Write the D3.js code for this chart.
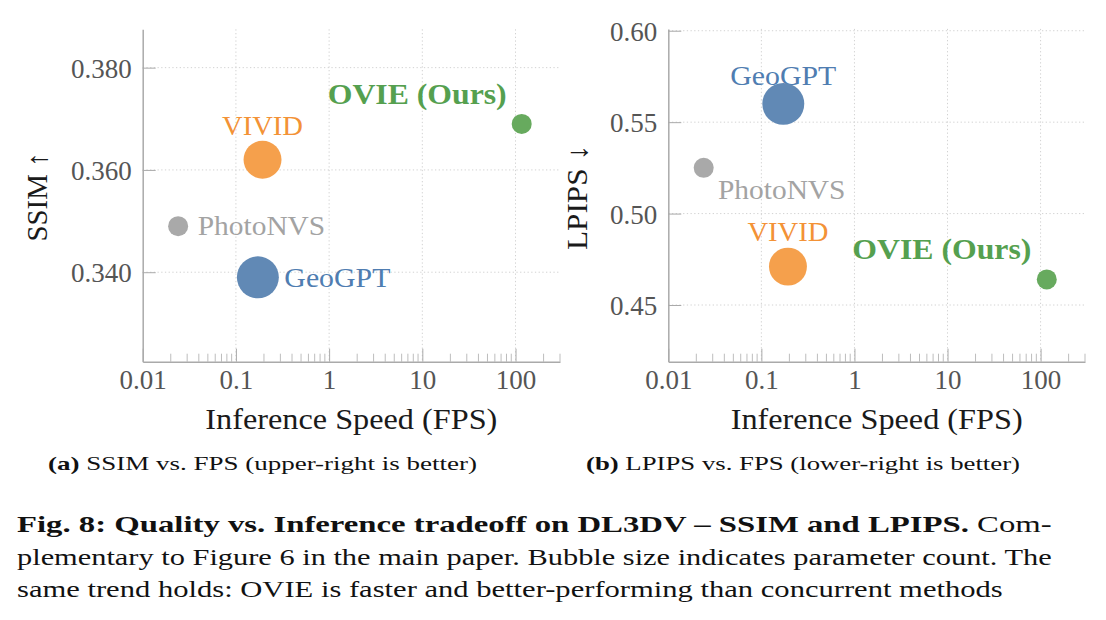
<!DOCTYPE html>
<html>
<head>
<meta charset="utf-8">
<script src="https://cdn.jsdelivr.net/npm/d3@7"></script>
<style>
  body { margin: 0; background: #fff; }
  svg { display: block; }
  text { font-family: "Liberation Serif", "Times New Roman", serif; }
</style>
</head>
<body>
<svg id="fig" width="1106" height="620"></svg>
<script>
// ---------------- data ----------------
const methods   = ["GeoGPT", "VIVID", "PhotoNVS", "OVIE (Ours)"];
const fps       = [0.172, 0.193, 0.024, 116.5];        // inference speed (FPS)
const ssim      = [0.339, 0.362, 0.349, 0.369];         // SSIM (higher better)
const lpips     = [0.560, 0.471, 0.525, 0.464];         // LPIPS (lower better)
const paramRel  = [4.4, 3.6, 1.0, 1.0];                 // relative parameter count (bubble area)
const xTicks    = [0.01, 0.1, 1, 10, 100];
const xTickLabels = ["0.01", "0.1", "1", "10", "100"];
const ssimTicks = [0.340, 0.360, 0.380];
const lpipsTicks = [0.45, 0.50, 0.55, 0.60];

// ---------------- styles ----------------
const fillColor = { "GeoGPT": "#6189b5", "VIVID": "#f5a04c", "PhotoNVS": "#a9a9a9", "OVIE (Ours)": "#67aa5e" };
const textColor = { "GeoGPT": "#4f7db1", "VIVID": "#f39236", "PhotoNVS": "#a3a3a3", "OVIE (Ours)": "#55a04f" };
const labelWidth = { "GeoGPT": 106, "VIVID": 81, "PhotoNVS": 127.5, "OVIE (Ours)": 179 };

const svg = d3.select("#fig");
svg.append("rect").attr("width", 1106).attr("height", 620).attr("fill", "#fff");

const rows = methods.map((m, i) => ({ m, fps: fps[i], ssim: ssim[i], lpips: lpips[i], p: paramRel[i] }));

function panel(o) {
  const x = d3.scaleLog().domain([0.01, 300]).range([o.x0, o.x1]);
  const y = d3.scaleLinear().domain(o.yDomain).range([o.y1, o.y0]);
  const r = d3.scaleSqrt().domain([0, 1]).range([0, 10]);
  const g = svg.append("g");

  // grid
  g.append("g").selectAll("line").data(o.yTicks).join("line")
    .attr("x1", o.x0).attr("x2", o.x1)
    .attr("y1", d => y(d)).attr("y2", d => y(d))
    .attr("stroke", "#d2d2d2").attr("stroke-width", 1).attr("stroke-dasharray", "1.3,2.4");
  g.append("g").selectAll("line").data(xTicks.slice(1)).join("line")
    .attr("x1", d => x(d)).attr("x2", d => x(d))
    .attr("y1", o.y0).attr("y2", o.y1)
    .attr("stroke", "#d2d2d2").attr("stroke-width", 1).attr("stroke-dasharray", "1.3,2.4");

  // minor x ticks
  const minors = [];
  xTicks.forEach(t => { for (let k = 2; k <= 9; k++) { const v = t * k; if (v <= 300) minors.push(v); } });
  g.append("g").selectAll("line").data(minors).join("line")
    .attr("x1", d => x(d)).attr("x2", d => x(d))
    .attr("y1", o.y1).attr("y2", o.y1 - 8)
    .attr("stroke", "#bdbdbd").attr("stroke-width", 1);

  // axes
  const ax = g.append("g").attr("transform", `translate(0,${o.y1})`)
    .call(d3.axisBottom(x).tickValues(xTicks).tickFormat((d, i) => xTickLabels[i])
      .tickSizeInner(-13).tickSizeOuter(0).tickPadding(8));
  const ay = g.append("g").attr("transform", `translate(${o.x0},0)`)
    .call(d3.axisLeft(y).tickValues(o.yTicks).tickFormat(d3.format(o.yFmt))
      .tickSizeInner(-13).tickSizeOuter(0).tickPadding(11));
  [ax, ay].forEach(a => {
    a.select(".domain").attr("stroke", "#aaaaaa").attr("stroke-width", 1.5);
    a.selectAll(".tick line").attr("stroke", "#aaaaaa").attr("stroke-width", 1);
    a.selectAll(".tick text").attr("fill", "#555").attr("font-size", 27)
      .attr("font-family", "Liberation Serif");
  });
  ay.selectAll(".tick text").attr("dy", "0.35em");

  // axis titles
  g.append("text").attr("x", (o.x0 + o.x1) / 2).attr("y", 429)
    .attr("text-anchor", "middle").attr("font-size", 29).attr("fill", "#1a1a1a")
    .attr("textLength", 292).attr("lengthAdjust", "spacingAndGlyphs")
    .text("Inference Speed (FPS)");
  g.append("text").attr("transform", `translate(${o.titleX},${o.titleY}) rotate(-90)`)
    .attr("text-anchor", "middle").attr("dominant-baseline", "central")
    .attr("font-size", 29).attr("fill", "#1a1a1a")
    .attr("textLength", o.titleLen).attr("lengthAdjust", "spacingAndGlyphs")
    .text(o.yTitle);

  // labels (drawn under bubbles)
  g.append("g").selectAll("text").data(rows).join("text")
    .attr("x", d => x(d.fps) + o.lab[d.m][0])
    .attr("y", d => y(d[o.key]) + o.lab[d.m][1])
    .attr("text-anchor", d => o.lab[d.m][2])
    .attr("font-size", d => d.m === "OVIE (Ours)" ? 29 : 28)
    .attr("font-weight", d => d.m === "OVIE (Ours)" ? "bold" : "normal")
    .attr("fill", d => textColor[d.m])
    .attr("textLength", d => labelWidth[d.m]).attr("lengthAdjust", "spacingAndGlyphs")
    .text(d => d.m);

  // bubbles
  g.append("g").selectAll("circle").data(rows).join("circle")
    .attr("cx", d => x(d.fps)).attr("cy", d => y(d[o.key]))
    .attr("r", d => r(d.p))
    .attr("fill", d => fillColor[d.m]);
}

panel({
  x0: 142.7, x1: 560, y0: 29.3, y1: 361.7,
  yDomain: [0.3225, 0.3875], yTicks: ssimTicks, yFmt: ".3f", key: "ssim",
  yTitle: "SSIM ↑", titleX: 36.5, titleY: 197, titleLen: 89,
  lab: {
    "GeoGPT": [26.5, 9.4, "start"],
    "VIVID": [0, -25, "middle"],
    "PhotoNVS": [19.6, 8.6, "start"],
    "OVIE (Ours)": [-15, -20, "end"]
  }
});

panel({
  x0: 668.3, x1: 1085, y0: 28.9, y1: 361.7,
  yDomain: [0.419, 0.601], yTicks: lpipsTicks, yFmt: ".2f", key: "lpips",
  yTitle: "LPIPS ↓", titleX: 577, titleY: 197.5, titleLen: 105,
  lab: {
    "GeoGPT": [0, -18.7, "middle"],
    "VIVID": [0, -26, "middle"],
    "PhotoNVS": [14.3, 31.3, "start"],
    "OVIE (Ours)": [-15.4, -20, "end"]
  }
});

// sub-captions
function subcap(x, len, tag, rest) {
  const t = svg.append("text").attr("x", x).attr("y", 470).attr("font-size", 19).attr("fill", "#111")
    .attr("textLength", len).attr("lengthAdjust", "spacingAndGlyphs");
  t.append("tspan").attr("font-weight", "bold").text(tag);
  t.append("tspan").text(" " + rest);
}
subcap(48, 429, "(a)", "SSIM vs. FPS (upper-right is better)");
subcap(586, 434, "(b)", "LPIPS vs. FPS (lower-right is better)");

// figure caption
const cap1 = svg.append("text").attr("x", 17).attr("y", 531.7).attr("font-size", 24).attr("fill", "#111")
  .attr("textLength", 1034.7).attr("lengthAdjust", "spacingAndGlyphs");
cap1.append("tspan").attr("font-weight", "bold").text("Fig. 8: Quality vs. Inference tradeoff on DL3DV – SSIM and LPIPS.");
cap1.append("tspan").text(" Com-");
svg.append("text").attr("x", 17).attr("y", 565).attr("font-size", 24).attr("fill", "#111")
  .attr("textLength", 1034.7).attr("lengthAdjust", "spacingAndGlyphs")
  .text("plementary to Figure 6 in the main paper. Bubble size indicates parameter count. The");
svg.append("text").attr("x", 17).attr("y", 597).attr("font-size", 24).attr("fill", "#111")
  .attr("textLength", 985.7).attr("lengthAdjust", "spacingAndGlyphs")
  .text("same trend holds: OVIE is faster and better-performing than concurrent methods");
</script>
</body>
</html>
